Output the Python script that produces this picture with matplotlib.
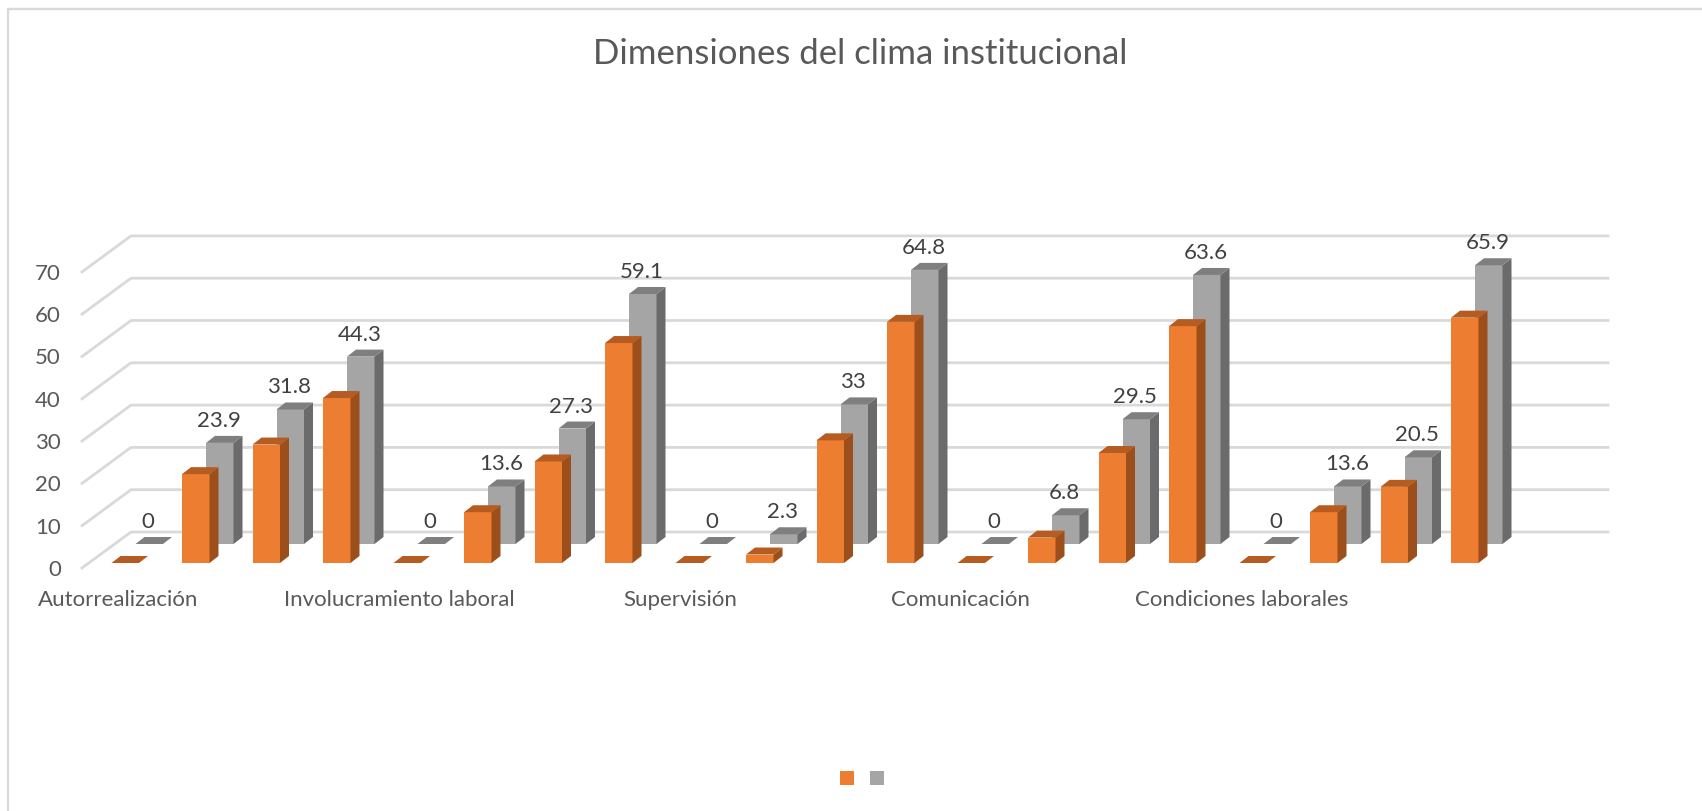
import matplotlib
matplotlib.use("Agg")
import matplotlib.pyplot as plt
from matplotlib.patches import Polygon, Rectangle

plt.rcParams['font.family'] = ['Lato', 'DejaVu Sans']

title = "Dimensiones del clima institucional"
categories = ["Autorrealización", "Involucramiento laboral", "Supervisión", "Comunicación", "Condiciones laborales"]
yticks = [0, 10, 20, 30, 40, 50, 60, 70]

# four bars per category, orange has no data labels in the original
orange = [0, 21, 28, 39, 0, 12, 24, 52, 0, 2, 29, 57, 0, 6, 26, 56, 0, 12, 18, 58]
gray = [0, 23.9, 31.8, 44.3, 0, 13.6, 27.3, 59.1, 0, 2.3, 33, 64.8, 0, 6.8, 29.5, 63.6, 0, 13.6, 20.5, 65.9]
gray_labels = ["0", "23.9", "31.8", "44.3", "0", "13.6", "27.3", "59.1", "0", "2.3", "33", "64.8",
               "0", "6.8", "29.5", "63.6", "0", "13.6", "20.5", "65.9"]

W, H = 1702, 811
PX_X = 70.5   # pixels per bar slot
PX_Y = 4.23   # pixels per value unit
X0, Y0 = 111.5, 563  # pixel of first bar corner / value zero


def dx(px):
    return px / PX_X


def dy(px):
    return px / PX_Y


fig = plt.figure(figsize=(W / 100, H / 100), dpi=100)
ax = fig.add_axes([0, 0, 1, 1])
ax.set_xlim(-X0 / PX_X, (W - X0) / PX_X)
ax.set_ylim((Y0 - H) / PX_Y, Y0 / PX_Y)
ax.axis("off")

BAR_W = dx(27.5)
DEPTH_X = dx(9)
DEPTH_Y = dy(7)
BACK_X = dx(24)
BACK_Y = dy(19)
GRID = "#d9d9d9"
TEXT = "#595959"


def bar3d(x, base, value, front, side, top, z):
    if value > 0:
        ax.add_patch(Polygon([(x, base), (x + BAR_W, base), (x + BAR_W, base + value), (x, base + value)],
                             closed=True, fc=front, lw=0, zorder=z))
        ax.add_patch(Polygon([(x + BAR_W, base), (x + BAR_W + DEPTH_X, base + DEPTH_Y),
                              (x + BAR_W + DEPTH_X, base + value + DEPTH_Y), (x + BAR_W, base + value)],
                             closed=True, fc=side, lw=0, zorder=z))
    ax.add_patch(Polygon([(x, base + value), (x + BAR_W, base + value),
                          (x + BAR_W + DEPTH_X, base + value + DEPTH_Y), (x + DEPTH_X, base + value + DEPTH_Y)],
                         closed=True, fc=top, lw=0, zorder=z))


# gridlines: back wall plus the floor-side diagonal
wall_x0, wall_x1 = dx(131 - X0), dx(1608 - X0)
wall_y = dy(Y0 - 532)
diag_x, diag_y = dx(82 - X0), dy(Y0 - 568)
for v in yticks:
    ax.plot([diag_x, wall_x0, wall_x1], [v + diag_y, v + wall_y, v + wall_y], color=GRID, lw=2.0, zorder=1,
            solid_joinstyle="miter")
    ax.text(dx(61 - X0), v + diag_y - dy(2), str(v), ha="right", va="center", fontsize=16, color=TEXT)

for i, v in enumerate(gray):
    x = i + BACK_X
    bar3d(x, BACK_Y, v, "#a5a5a5", "#6b6b6b", "#7f7f7f", 2)
    ax.text(x + BAR_W / 2 - dx(1), BACK_Y + v + dy(22), gray_labels[i], ha="center", va="center",
            fontsize=16, color="#404040", zorder=5)

for i, v in enumerate(orange):
    bar3d(i, 0, v, "#ed7d31", "#9c4f1b", "#b65c20", 3)

for i, cat in enumerate(categories):
    ax.text(dx(118 - X0) + i * 3.985, dy(Y0 - 600), cat, ha="center", va="center", fontsize=16, color=TEXT)

ax.text(dx(860 - X0), dy(Y0 - 54), title, ha="center", va="center", fontsize=25, color=TEXT)

# legend squares, entries have no text
for px, c in zip([840, 870], ["#ed7d31", "#a5a5a5"]):
    ax.add_patch(Rectangle((dx(px - X0), dy(Y0 - 785)), dx(14), dy(14), fc=c, lw=0))

# chart frame
ax.plot([dx(8 - X0), dx(8 - X0), dx(W - X0)], [dy(Y0 - H), dy(Y0 - 9), dy(Y0 - 9)], color="#d9d9d9", lw=1.7)

fig.savefig("out.png", dpi=100)
